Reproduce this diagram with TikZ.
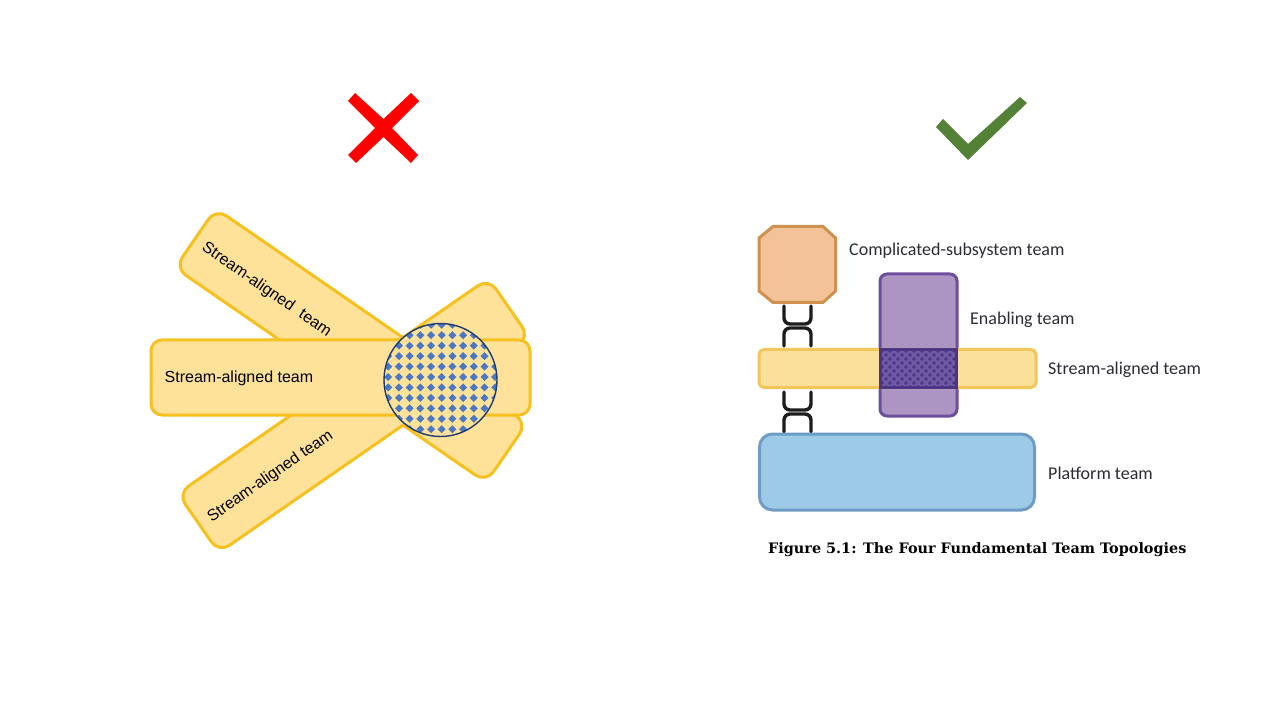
\documentclass[tikz,border=0pt]{standalone}
\usepackage{fontspec}
\setmainfont{Liberation Sans}
\newfontfamily\labelfont{Carlito}
\newfontfamily\captionfont{DejaVu Serif}
\usetikzlibrary{shapes.geometric}
\definecolor{teamfill}{HTML}{FEE29A}
\definecolor{teamline}{HTML}{F6C11F}
\definecolor{dotblue}{HTML}{4A78C4}
\definecolor{ringblue}{HTML}{1F3B70}
\definecolor{crossred}{HTML}{FF0000}
\definecolor{tickgreen}{HTML}{538135}
\definecolor{subfill}{HTML}{F3C298}
\definecolor{subline}{HTML}{CE9150}
\definecolor{enablefill}{HTML}{AD95C3}
\definecolor{enableline}{HTML}{6C4E9C}
\definecolor{enabledark}{HTML}{4B3587}
\definecolor{enabledot}{HTML}{6F5AA3}
\definecolor{alignfill}{HTML}{FAE09B}
\definecolor{alignline}{HTML}{F2C658}
\definecolor{platfill}{HTML}{9DCAE6}
\definecolor{platline}{HTML}{6E9CC5}
\definecolor{linkblack}{HTML}{1C1C1E}
\definecolor{labelgrey}{HTML}{2C2C34}
\tikzset{
	badteam/.style={shape=rectangle, draw=teamline, fill=teamfill, line width=3pt, rounded corners=13pt, minimum width=378pt, minimum height=72pt, inner sep=0pt},
	badlabel/.style={font=\fontsize{16}{18}\selectfont, text=black, inner sep=0pt},
	goodlabel/.style={font=\labelfont\fontsize{18}{21}\selectfont, text=labelgrey, anchor=west, inner sep=0pt},
	linkline/.style={draw=linkblack, line width=3.4pt, line cap=round, rounded corners=6pt}
}
% one link, drawn from its top left point
\newcommand{\linkpair}[2]{
	\draw[linkline] (#1,#2) -- (#1,#2+18) -- (#1+27,#2+18) -- (#1+27,#2);
	\draw[linkline] (#1,#2+40) -- (#1,#2+22) -- (#1+27,#2+22) -- (#1+27,#2+40);
}
\begin{document}
\begin{tikzpicture}[x=1pt, y=-1pt]
	\useasboundingbox (0,0) rectangle (1280,719);
	\fill[white] (0,0) rectangle (1280,719);
	% the cross and the tick
	\fill[crossred] (355,93) -- (383.5,119) -- (411,93) -- (419,101) -- (392,128) -- (418,155) -- (411,163) -- (383.5,137) -- (356,163) -- (348,155) -- (375,128) -- (348,101) -- cycle;
	\fill[tickgreen] (936,127) -- (943,119) -- (968,144) -- (1020,97) -- (1027,103) -- (968,160) -- cycle;
	% left side
	\node[badteam, rotate=-34.6] (teamup) at (351,345.5) {};
	\node[badteam, rotate=34.7] (teamdown) at (353.7,415.5) {};
	\node[badteam, minimum width=379pt, minimum height=75pt, rounded corners=11pt] (teammid) at (340.5,377.5) {};
	\node[badlabel, rotate=-34.6] (labelup) at (266.5,290) {Stream-aligned\hspace{0.3em} team};
	\node[badlabel, rotate=34.7] (labeldown) at (270.5,476.5) {Stream-aligned team};
	\node[badlabel, anchor=west] (labelmid) at (164.5,378) {Stream-aligned team};
	\node[shape=circle, fill=teamfill, minimum size=113pt, inner sep=0pt] (hub) at (440.5,380) {};
	\begin{scope}
		\clip (440.5,380) circle (56.5);
		\foreach \i in {-6,...,6}
			\foreach \j in {-6,...,6}
				\fill[dotblue] (441.7+10.7*\i,377+10.45*\j) ++(-4,0) -- ++(4,-4) -- ++(4,4) -- ++(-4,4) -- cycle;
	\end{scope}
	\node[shape=circle, draw=ringblue, line width=1.4pt, minimum size=113pt, inner sep=0pt] (hubring) at (440.5,380) {};
	% right side
	\draw[draw=subline, fill=subfill, line width=3pt] (773,226.5) -- (823,226.5) -- (835.5,238) -- (835.5,291) -- (823,302.5) -- (773,302.5) -- (759,291) -- (759,238) -- cycle;
	\linkpair{784}{306}
	\linkpair{784}{392}
	\node[shape=rectangle, draw=platline, fill=platfill, line width=3pt, rounded corners=13pt, minimum width=275pt, minimum height=76pt, inner sep=0pt] (platteam) at (897,472) {};
	\node[shape=rectangle, draw=enableline, fill=enablefill, line width=3pt, rounded corners=7pt, minimum width=77pt, minimum height=142pt, inner sep=0pt] (enableteam) at (918.5,345) {};
	\node[shape=rectangle, draw=alignline, fill=alignfill, line width=3pt, rounded corners=5pt, minimum width=277pt, minimum height=38pt, inner sep=0pt] (alignteam) at (897.5,368.5) {};
	\node[shape=rectangle, draw=enabledark, fill=enabledot, line width=3pt, minimum width=76pt, minimum height=38pt, inner sep=0pt] (overlap) at (918.5,368.5) {};
	\begin{scope}
		\clip (882,351) rectangle (955,386);
		\foreach \i in {0,...,9}
			\foreach \j in {0,...,5}
				\fill[enabledark] (882+8*\i,351+8*\j) circle (1.9) (886+8*\i,355+8*\j) circle (1.9);
	\end{scope}
	\node[goodlabel] (sublabel) at (849,250.5) {Complicated-subsystem team};
	\node[goodlabel] (enablelabel) at (970,319.5) {Enabling team};
	\node[goodlabel] (alignlabel) at (1048,369.5) {Stream-aligned team};
	\node[goodlabel] (platlabel) at (1048,473.5) {Platform team};
	\node[font=\captionfont\bfseries\fontsize{14.4}{18}\selectfont, anchor=west, inner sep=0pt] (figcaption) at (768,549.5) {Figure 5.1: The Four Fundamental Team Topologies};
\end{tikzpicture}
\end{document}
